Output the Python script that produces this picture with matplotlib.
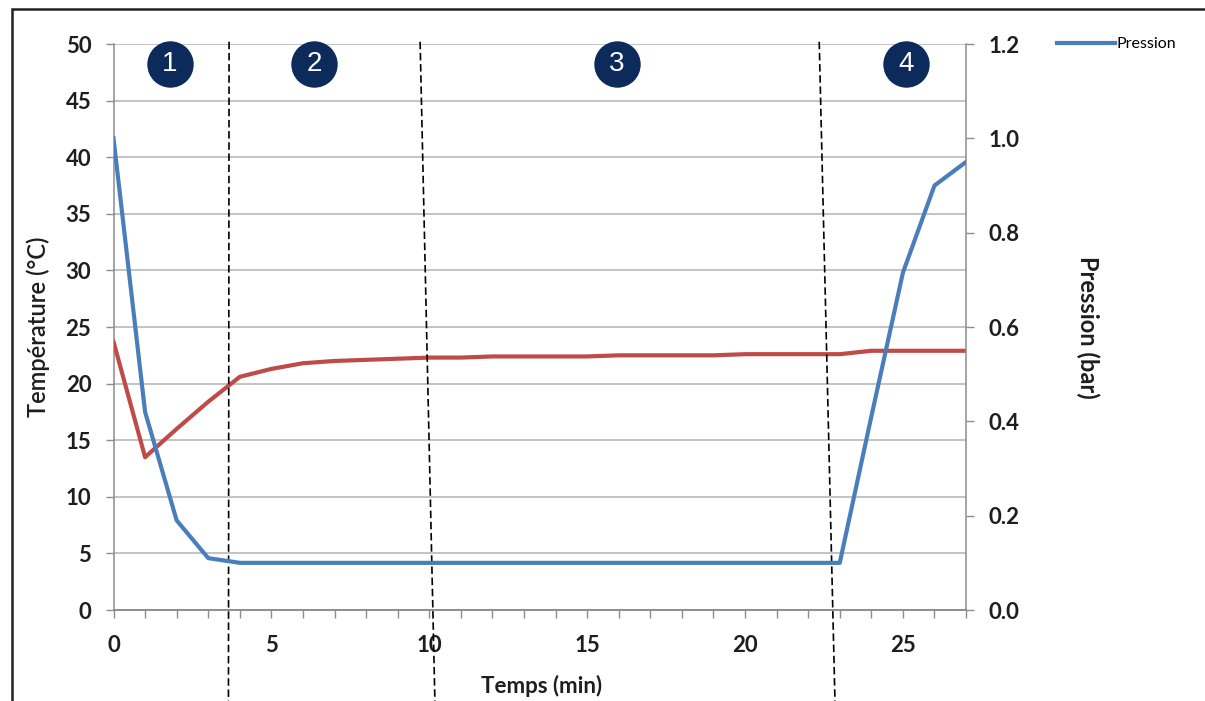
import matplotlib.pyplot as plt
from matplotlib.patches import Rectangle

# time in minutes
temps = list(range(28))

# temperature in degC (left axis)
temperature = [23.7, 13.5, 16.0, 18.4, 20.6, 21.3, 21.8, 22.0, 22.1, 22.2,
               22.3, 22.3, 22.4, 22.4, 22.4, 22.4, 22.5, 22.5, 22.5, 22.5,
               22.6, 22.6, 22.6, 22.6, 22.9, 22.9, 22.9, 22.9]

# pressure in bar (right axis)
pression = [1.0, 0.42, 0.19, 0.11, 0.10, 0.10, 0.10, 0.10, 0.10, 0.10,
            0.10, 0.10, 0.10, 0.10, 0.10, 0.10, 0.10, 0.10, 0.10, 0.10,
            0.10, 0.10, 0.10, 0.10, 0.41, 0.715, 0.90, 0.95]

# phase markers and separators
phases = ['1', '2', '3', '4']
phase_x = [1.79, 6.35, 15.95, 25.09]
separators = [(3.66, 3.64), (9.71, 10.18), (22.35, 22.85)]

plt.rcParams['font.family'] = ['Lato', 'DejaVu Sans']

fig = plt.figure(figsize=(12.05, 7.01), dpi=100)
ax = fig.add_axes([0.0942, 0.1298, 0.7075, 0.8074])
ax2 = ax.twinx()

grid_c = '#b3b3b3'
spine_c = '#8c8c8c'
txt_c = '#1e1e1e'

ax.set_xlim(0, 27)
ax.set_ylim(0, 50)
ax.set_yticks(range(0, 51, 5))
ax.set_xticks(range(0, 28), minor=True)
ax.set_xticks(range(0, 28, 5))
ax.yaxis.grid(True, color=grid_c, lw=1.1)
ax.set_axisbelow(True)

ax2.set_ylim(0, 1.2)
ax2.set_yticks([0.0, 0.2, 0.4, 0.6, 0.8, 1.0, 1.2])
ax2.set_yticklabels(['%.1f' % v for v in [0.0, 0.2, 0.4, 0.6, 0.8, 1.0, 1.2]])

for a in (ax, ax2):
    a.spines['top'].set_visible(False)
    for s in ('left', 'right', 'bottom'):
        a.spines[s].set_color(spine_c)
        a.spines[s].set_linewidth(1.1)
ax.spines['right'].set_visible(False)
ax2.spines['left'].set_visible(False)

ax.tick_params(axis='y', length=6, width=1, color=spine_c, pad=10,
               labelsize=16, labelcolor=txt_c)
ax.tick_params(axis='x', which='both', length=6, width=1, color=spine_c,
               pad=12, labelsize=16, labelcolor=txt_c)
ax2.tick_params(axis='y', length=6, width=1, color=spine_c, pad=10,
                labelsize=16, labelcolor=txt_c)
for lab in ax.get_xticklabels() + ax.get_yticklabels() + ax2.get_yticklabels():
    lab.set_fontweight('bold')

ax.plot(temps, temperature, color='#be4b48', lw=3, zorder=3)
line_p, = ax2.plot(temps, pression, color='#4a7ebb', lw=3, label='Pression',
                   zorder=3)

for xt, xb in separators:
    ax.plot([xt, xb], [50.2, -8.2], color='black', lw=1.2,
            dashes=(4.5, 2.2), clip_on=False, zorder=4)

for lab, px in zip(phases, phase_x):
    ax.scatter([px], [48.2], s=1050, color='#0c2a5a', zorder=5, clip_on=False)
    ax.text(px, 48.2, lab, color='white', fontsize=20, ha='center',
            va='center', family=['Liberation Sans', 'DejaVu Sans'], zorder=6)

ax.set_ylabel('Température (°C)', fontsize=17, fontweight='semibold',
              color=txt_c)
ax.yaxis.set_label_coords(-0.075, 0.5)
ax2.set_ylabel('Pression (bar)', fontsize=17, fontweight='bold',
               rotation=270, color=txt_c)
ax2.yaxis.set_label_coords(1.156, 0.5)
ax.set_xlabel('Temps (min)', fontsize=16, fontweight='bold', color=txt_c)
ax.xaxis.set_label_coords(0.502, -0.115)

fig.legend(handles=[line_p], loc='center left', bbox_to_anchor=(0.872, 0.937),
           frameon=False, fontsize=11.5, handlelength=3.6, handletextpad=0.1,
           borderaxespad=0)

fig.patches.append(Rectangle((12 / 1205, -0.1), 1.2, 1.1 - 9 / 701,
                             transform=fig.transFigure, fill=False,
                             edgecolor='#222222', lw=1.8))

fig.savefig('out.png', dpi=100)
